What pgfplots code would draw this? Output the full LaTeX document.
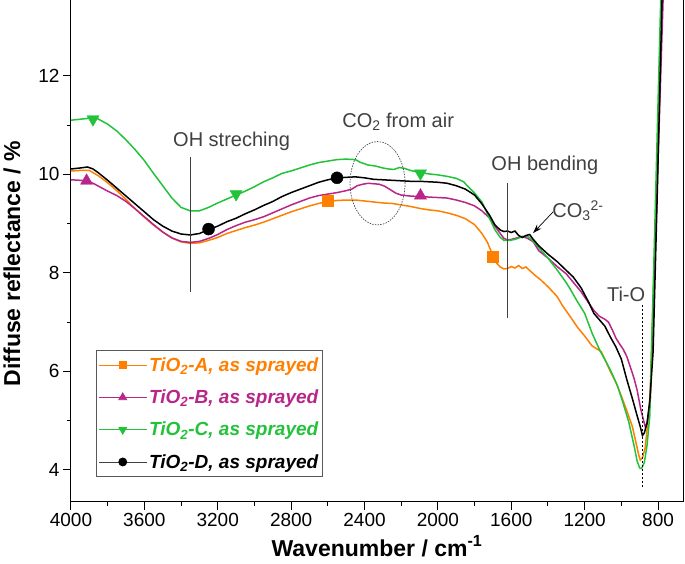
\documentclass[border=0pt]{standalone}
\usepackage{pgfplots}
\pgfplotsset{compat=1.18}
\usepackage{fontspec}
\setmainfont{Liberation Sans}
\usetikzlibrary{arrows.meta}

\definecolor{cA}{RGB}{255,128,0}
\definecolor{cB}{RGB}{184,38,138}
\definecolor{cC}{RGB}{34,195,58}
\definecolor{annot}{RGB}{64,64,64}

\begin{document}
\begin{tikzpicture}
\begin{axis}[
  name=ax,
  scale only axis,
  width=612pt, height=502pt,
  x dir=reverse,
  xmin=664, xmax=4000,
  ymin=3.35, ymax=13.54,
  xtick={800,1200,...,4000},
  ytick={4,6,...,12},
  minor x tick num=1,
  minor y tick num=1,
  xtick pos=bottom, ytick pos=left,
  tick align=outside,
  major tick length=8pt, minor tick length=4pt,
  axis line style={line width=1pt},
  every tick/.style={black, line width=1pt},
  /pgf/number format/.cd, 1000 sep={}, assume math mode=true,
  /pgfplots/.cd,
  tick label style={font=\fontsize{19}{22}\selectfont},
  xlabel={Wavenumber / cm\textsuperscript{-1}},
  ylabel={Diffuse reflectance / \%},
  label style={font=\fontsize{23}{26}\selectfont\bfseries},
  xlabel style={at={(axis description cs:0.5,-0.1076)}, anchor=base},
  ylabel style={at={(axis description cs:-0.116,0.475)}, anchor=north},
  legend style={at={(0.0408,0.0498)}, anchor=south west,
    draw=black!65, line width=0.8pt, inner xsep=2pt, inner ysep=5pt,
    row sep=13pt,
    font=\fontsize{19}{22}\selectfont\bfseries\itshape},
  legend cell align=left,
  legend image code/.code={\draw[mark repeat=2,mark phase=2,#1] plot coordinates {(0pt,0pt) (24pt,0pt) (48pt,0pt)};},
]
% TiO2-A
\addplot[cA, line width=1.5pt, forget plot] coordinates {
(4000,10.07) (3950,10.08) (3900,10.08) (3850,9.97) (3800,9.83) (3750,9.67) (3700,9.49)
(3650,9.30) (3600,9.13) (3550,8.97) (3500,8.83) (3450,8.71) (3400,8.63) (3350,8.60)
(3300,8.61) (3250,8.66) (3200,8.72) (3150,8.80) (3100,8.86) (3050,8.92) (3000,8.97)
(2950,9.03) (2900,9.10) (2850,9.17) (2800,9.24) (2750,9.30) (2700,9.36) (2650,9.41)
(2600,9.45) (2550,9.47) (2500,9.48) (2450,9.48) (2400,9.46) (2350,9.44) (2300,9.42)
(2250,9.41) (2200,9.38) (2150,9.35) (2100,9.31) (2050,9.28) (2000,9.26) (1950,9.22)
(1900,9.17) (1850,9.10) (1800,8.98) (1760,8.80) (1730,8.62) (1700,8.35) (1680,8.20)
(1660,8.12) (1640,8.08) (1620,8.09) (1600,8.13) (1580,8.10) (1560,8.15) (1540,8.09)
(1520,8.12) (1500,8.05) (1470,7.95) (1440,7.86) (1400,7.72) (1350,7.52) (1320,7.33)
(1280,7.12) (1240,6.90) (1200,6.72) (1160,6.52) (1130,6.45) (1110,6.40) (1090,6.25)
(1060,6.00) (1030,5.78) (1000,5.50) (970,5.20) (940,4.88) (920,4.55) (905,4.30)
(897,4.20) (885,4.25) (870,4.45) (855,5.00) (843,5.55) (818,8.50) (776,13.60) (765,15.00)
};
\addplot[cA, only marks, mark=square*, mark size=5.5pt, forget plot] coordinates {(2600,9.46) (1700,8.33)};
% TiO2-B
\addplot[cB, line width=1.5pt, forget plot] coordinates {
(4000,9.89) (3950,9.88) (3920,9.87) (3880,9.82) (3850,9.76) (3800,9.66) (3750,9.57)
(3700,9.45) (3650,9.30) (3600,9.14) (3550,8.98) (3500,8.83) (3450,8.71) (3400,8.64)
(3350,8.62) (3300,8.64) (3250,8.70) (3200,8.78) (3150,8.88) (3100,8.96) (3050,9.03)
(3000,9.08) (2950,9.14) (2900,9.22) (2850,9.30) (2800,9.38) (2750,9.45) (2700,9.52)
(2650,9.57) (2600,9.60) (2550,9.63) (2500,9.67) (2470,9.70) (2440,9.77) (2410,9.80)
(2380,9.82) (2350,9.81) (2320,9.80) (2290,9.76) (2260,9.69) (2230,9.62) (2200,9.58)
(2150,9.56) (2100,9.55) (2050,9.54) (2000,9.53) (1950,9.52) (1900,9.48) (1850,9.43)
(1800,9.36) (1760,9.26) (1720,9.12) (1690,8.95) (1660,8.80) (1640,8.70) (1620,8.67)
(1600,8.68) (1570,8.71) (1540,8.74) (1510,8.70) (1480,8.63) (1450,8.45) (1400,8.30)
(1350,8.13) (1300,7.98) (1260,7.80) (1220,7.62) (1180,7.40) (1150,7.24) (1120,7.12)
(1090,7.06) (1070,7.00) (1050,6.85) (1030,6.68) (1010,6.56) (990,6.45) (970,6.30)
(950,6.08) (930,5.85) (914,5.62) (895,5.25) (880,5.02) (870,4.88) (860,4.95)
(843,5.36) (816,8.40) (772,13.60) (760,15.00)
};
\addplot[cB, only marks, mark=triangle*, mark size=7pt, forget plot] coordinates {(3915,9.87) (2095,9.57)};
% TiO2-C
\addplot[cC, line width=1.5pt, forget plot] coordinates {
(4000,11.10) (3950,11.12) (3900,11.14) (3860,11.14) (3800,11.02) (3750,10.88) (3700,10.70)
(3650,10.50) (3600,10.28) (3550,10.02) (3500,9.77) (3450,9.52) (3400,9.33) (3350,9.26)
(3300,9.26) (3250,9.33) (3200,9.42) (3150,9.50) (3100,9.58) (3050,9.66) (3000,9.75)
(2950,9.85) (2900,9.93) (2850,10.02) (2800,10.07) (2750,10.13) (2700,10.19) (2650,10.24)
(2600,10.27) (2550,10.30) (2500,10.31) (2450,10.30) (2420,10.24) (2380,10.19) (2340,10.17)
(2300,10.13) (2270,10.11) (2240,10.10) (2210,10.14) (2180,10.12) (2150,10.08) (2100,10.04)
(2050,10.01) (2000,9.99) (1950,9.96) (1900,9.92) (1860,9.85) (1840,9.77) (1800,9.62)
(1760,9.44) (1720,9.12) (1690,8.88) (1660,8.72) (1640,8.66) (1610,8.66) (1580,8.68)
(1550,8.72) (1520,8.75) (1500,8.72) (1470,8.60) (1440,8.47) (1400,8.30) (1350,8.06)
(1300,7.80) (1280,7.68) (1240,7.42) (1200,7.18) (1160,6.78) (1120,6.45) (1080,6.17)
(1060,6.03) (1020,5.70) (990,5.35) (960,4.98) (930,4.48) (914,4.18) (900,4.04)
(890,4.03) (875,4.15) (860,4.50) (845,5.10) (821,8.47) (785,13.60) (770,15.50)
};
\addplot[cC, only marks, mark=triangle*, mark options={rotate=180}, mark size=7pt, forget plot] coordinates {(3880,11.12) (3100,9.60) (2095,10.02)};
% TiO2-D
\addplot[black, line width=1.5pt, forget plot] coordinates {
(4000,10.11) (3950,10.13) (3910,10.15) (3880,10.11) (3850,10.03) (3800,9.88) (3750,9.72)
(3700,9.56) (3650,9.40) (3600,9.24) (3550,9.08) (3500,8.95) (3450,8.85) (3400,8.79)
(3350,8.77) (3300,8.80) (3250,8.88) (3200,8.95) (3150,9.04) (3100,9.11) (3050,9.20)
(3000,9.28) (2950,9.37) (2900,9.45) (2850,9.55) (2800,9.63) (2750,9.70) (2700,9.77)
(2650,9.84) (2600,9.89) (2550,9.93) (2500,9.94) (2450,9.95) (2400,9.93) (2350,9.90)
(2300,9.89) (2250,9.88) (2200,9.87) (2150,9.86) (2100,9.86) (2050,9.85) (2000,9.84)
(1950,9.82) (1900,9.77) (1850,9.70) (1800,9.58) (1760,9.40) (1720,9.18) (1690,8.98)
(1660,8.87) (1640,8.84) (1620,8.85) (1600,8.82) (1580,8.85) (1560,8.76) (1540,8.72)
(1520,8.76) (1500,8.78) (1480,8.68) (1450,8.55) (1400,8.38) (1350,8.23) (1300,8.05)
(1263,7.92) (1220,7.70) (1180,7.42) (1150,7.18) (1120,7.05) (1090,6.92) (1060,6.70)
(1030,6.50) (1000,6.25) (970,5.83) (940,5.45) (914,5.10) (897,4.88) (885,4.70)
(875,4.75) (860,4.95) (845,5.40) (827,6.40) (805,9.50) (778,13.60) (765,15.20)
};
\addplot[black, only marks, mark=*, mark size=6pt, forget plot] coordinates {(3250,8.89) (2550,9.93)};

% annotations
\draw[annot, line width=0.8pt] (axis cs:3351,10.36) -- (axis cs:3351,7.61);
\draw[annot, line width=0.8pt] (axis cs:1623,9.83) -- (axis cs:1623,7.09);
\draw[black!70, line width=0.7pt, dash pattern=on 1.5pt off 1.2pt] (axis cs:2329,9.82) ellipse [x radius=27.5pt, y radius=41.7pt];
\draw[black, line width=0.8pt, dash pattern=on 2pt off 2pt] (axis cs:888,7.35) -- (axis cs:888,3.65);
\draw[black, line width=0.7pt, -{Stealth[length=9pt,width=6pt]}] (axis cs:1372,9.24) -- (axis cs:1481,8.81);
\begin{scope}[every node/.style={annot, font=\fontsize{20}{24}\selectfont, inner sep=0pt, anchor=base west}]
\node at (axis cs:3444,10.57) {OH streching};
\node at (axis cs:2522,10.96) {CO\textsubscript{2} from air};
\node at (axis cs:1709,10.08) {OH bending};
\node at (axis cs:1377,9.12) {CO\textsubscript{3}\textsuperscript{2-}};
\node at (axis cs:1079,7.42) {Ti-O};
\end{scope}

\addlegendimage{cA, line width=0.8pt, mark=square*, mark size=3.5pt}
\addlegendentry{\textcolor{cA}{TiO\textsubscript{2}-A, as sprayed}}
\addlegendimage{cB, line width=0.8pt, mark=triangle*, mark size=4.5pt}
\addlegendentry{\textcolor{cB}{TiO\textsubscript{2}-B, as sprayed}}
\addlegendimage{cC, line width=0.8pt, mark=triangle*, mark options={rotate=180}, mark size=4.5pt}
\addlegendentry{\textcolor{cC}{TiO\textsubscript{2}-C, as sprayed}}
\addlegendimage{black!75, line width=0.8pt, mark=*, mark size=4pt, mark options={black}}
\addlegendentry{\textcolor{black}{TiO\textsubscript{2}-D, as sprayed}}
\end{axis}
\pgfresetboundingbox
\path[use as bounding box] ([shift={(-71pt,-62pt)}]ax.south west) rectangle ([shift={(2pt,0pt)}]ax.north east);
\end{tikzpicture}
\end{document}
